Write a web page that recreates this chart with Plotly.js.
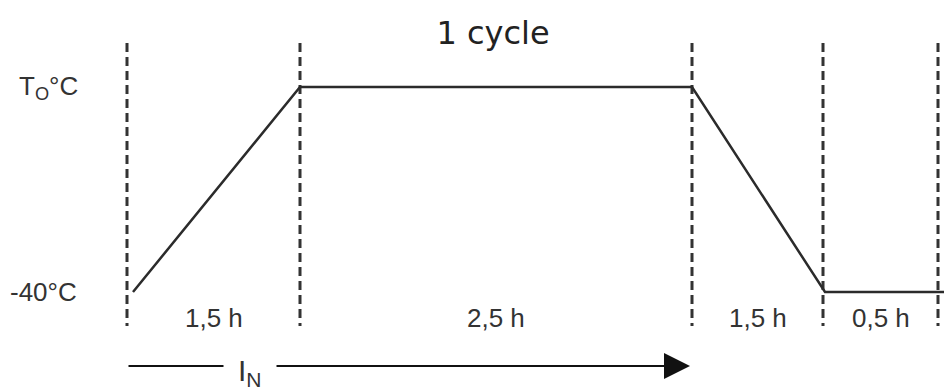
<!DOCTYPE html>
<html>
<head>
<meta charset="utf-8">
<script src="https://cdn.plot.ly/plotly-3.0.1.min.js"></script>
<style>html,body{margin:0;padding:0;background:#fff;}#chart{width:944px;height:391px;}</style>
</head>
<body>
<div id="chart"></div>
<script>
// ---- data (schematic positions along the cycle, levels: 0 = -40°C, 1 = T_O°C) ----
const phaseBoundaries = [127, 300, 692, 823, 938];
const phaseLabels = ['1,5 h', '2,5 h', '1,5 h', '0,5 h'];
const profileX = [133, 300, 692, 825, 944];
const profileLevel = [0, 1, 1, 0, 0];
const levelValues = [0, 1];
const levelLabels = ['-40°C', 'T<sub>O</sub>°C'];
const titleText = '1 cycle';
const arrowLabel = 'I<sub>N</sub>';

// pixel -> level helper for layout placement
const lv = p => (292 - p) / 205;
const ink = '#2b2b2b';
const labelFont = {family: 'Liberation Sans, Arial, sans-serif', size: 26, color: '#333'};

const traces = [{
  x: profileX, y: profileLevel, type: 'scatter', mode: 'lines',
  line: {color: ink, width: 2.5}, hoverinfo: 'skip'
}];

const shapes = phaseBoundaries.map(b => ({
  type: 'line', xref: 'x', yref: 'y', x0: b, x1: b, y0: lv(43), y1: lv(326),
  line: {color: '#333', width: 3, dash: '9px,5px'}, layer: 'below'
}));

const annotations = [];
// level labels
const levelX = [43, 48];
levelValues.forEach((v, i) => annotations.push({
  x: levelX[i], y: v, xref: 'x', yref: 'y', text: levelLabels[i], showarrow: false,
  xanchor: 'center', yanchor: 'middle', font: labelFont
}));
// phase duration labels
phaseLabels.forEach((t, i) => annotations.push({
  x: (phaseBoundaries[i] + phaseBoundaries[i + 1]) / 2, y: lv(318), xref: 'x', yref: 'y',
  text: t, showarrow: false, xanchor: 'center', yanchor: 'middle', font: labelFont
}));
// arrow
annotations.push({
  x: phaseBoundaries[2] - 2, y: lv(366), ax: phaseBoundaries[0], ay: lv(366),
  xref: 'x', yref: 'y', axref: 'x', ayref: 'y', text: '', showarrow: true,
  arrowhead: 2, arrowwidth: 2, arrowsize: 2.6, arrowcolor: '#111', standoff: 0
});
annotations.push({
  x: 249.5, y: lv(372), xref: 'x', yref: 'y', text: arrowLabel, showarrow: false,
  xanchor: 'center', yanchor: 'middle', bgcolor: '#ffffff', borderpad: 14,
  font: {family: 'Liberation Sans, Arial, sans-serif', size: 30, color: '#333'}
});

const layout = {
  width: 944, height: 391,
  margin: {l: 0, r: 0, t: 0, b: 0},
  paper_bgcolor: '#ffffff', plot_bgcolor: '#ffffff',
  showlegend: false,
  title: {text: titleText, x: 493 / 944, xanchor: 'center', y: 1 - 33 / 391, yanchor: 'middle',
          font: {family: 'DejaVu Sans, sans-serif', size: 32, color: '#222'}},
  xaxis: {range: [0, 944], visible: false, fixedrange: true},
  yaxis: {range: [lv(391), lv(0)], visible: false, fixedrange: true},
  shapes: shapes,
  annotations: annotations
};

Plotly.newPlot('chart', traces, layout, {displayModeBar: false, staticPlot: true});
</script>
</body>
</html>
